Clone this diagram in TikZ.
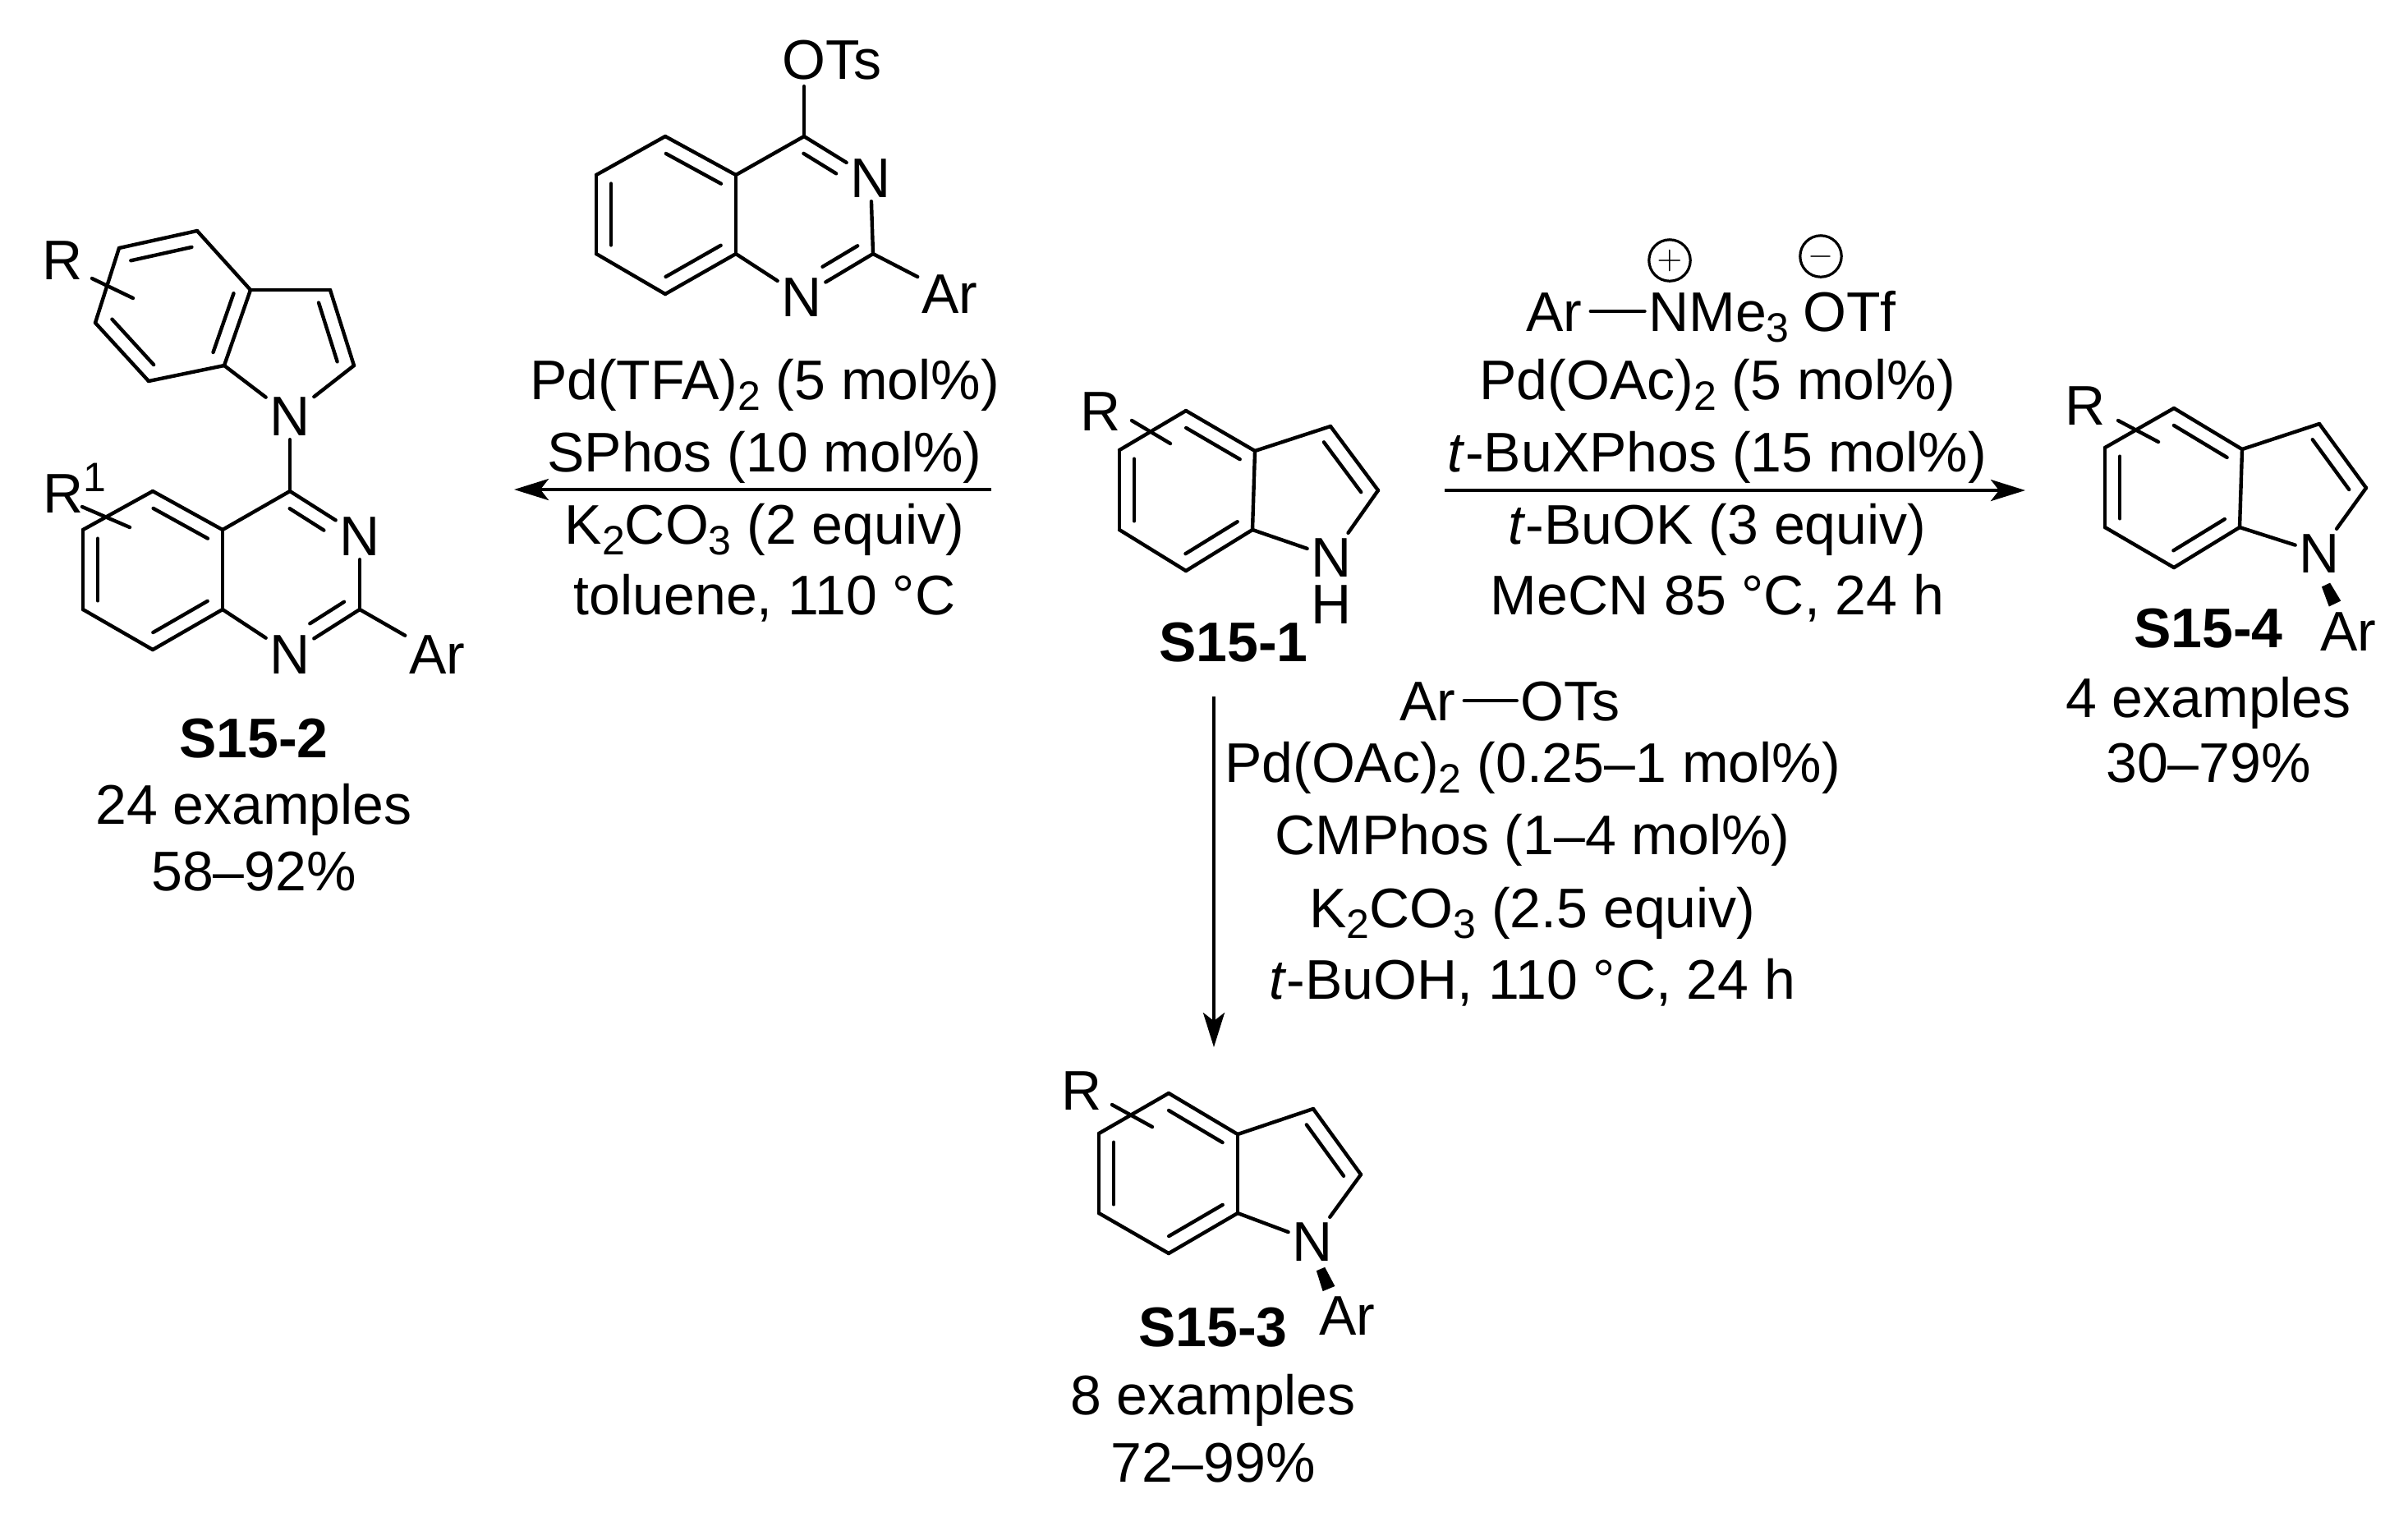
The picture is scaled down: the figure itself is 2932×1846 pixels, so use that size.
\documentclass[tikz,border=0pt]{standalone}
\usepackage{fontspec}
\setmainfont{Liberation Sans}
\usetikzlibrary{arrows.meta,calc}
\newcommand{\dbl}[4][.89]{\draw[inner] ($(#2)!.11!(#3)!4.5pt!#4:(#3)$) -- ($(#2)!#1!(#3)!4.5pt!#4:(#3)$);}
\newcommand{\wedgebond}[2]{\fill ($(#1)!1.4pt!90:(#2)$) -- ($(#1)!1.4pt!-90:(#2)$) -- ($(#2)!2pt!90:(#1)$) -- ($(#2)!2pt!-90:(#1)$) -- cycle;}
\newcommand{\subs}[1]{\raisebox{-3.3pt}{\fontsize{12.5}{12.5}\selectfont #1}}
\newcommand{\supr}[1]{\raisebox{6.5pt}{\fontsize{12.5}{12.5}\selectfont #1}}

\begin{document}
\begin{tikzpicture}[x=0.25pt,y=-0.25pt]
\tikzstyle{every node}=[font=\fontsize{17}{17}\selectfont, text height=12.2pt, text depth=0pt, inner sep=1pt]
\tikzstyle{bond}=[line width=1.1pt, line cap=round]
\tikzstyle{inner}=[line width=1.1pt, line cap=round]
\tikzstyle{connect}=[-{Stealth[length=10.5pt, width=6.5pt, inset=2.5pt]}, line width=1.1pt]
\tikzstyle{charge}=[circle, draw, line width=.8pt, minimum size=12.6pt, inner sep=0pt, text height=, text depth=, font=\normalsize]
\useasboundingbox (0,0) rectangle (2932,1846);

% tosylate on top of the left arrow
\coordinate (TopC4) at (979,166); \coordinate (TopC4a) at (896,213); \coordinate (TopC5) at (810,166);
\coordinate (TopC6) at (726,213); \coordinate (TopC7) at (726,309); \coordinate (TopC8) at (810,358);
\coordinate (TopC8a) at (896,309); \coordinate (TopC2) at (1063,309);
\node (TopN1) at (976,361) {N};
\node (TopN3) at (1060,216) {N};
\node (TopAr) at (1156,357) {Ar};
\node (TopOTs) at (1013,72) {OTs};
\path (TopC4) edge [bond] (TopC4a) (TopC4a) edge [bond] (TopC5) (TopC5) edge [bond] (TopC6)
  (TopC6) edge [bond] (TopC7) (TopC7) edge [bond] (TopC8) (TopC8) edge [bond] (TopC8a)
  (TopC8a) edge [bond] (TopC4a) (TopC8a) edge [bond] (TopN1) (TopN1) edge [bond] (TopC2)
  (TopC2) edge [bond] (TopN3) (TopN3) edge [bond] (TopC4) (TopC2) edge [bond] (TopAr);
\coordinate (TopO) at (979,105);
\draw[bond] (TopC4) -- (TopO);
\dbl{TopC4a}{TopC5}{90} \dbl{TopC6}{TopC7}{90} \dbl{TopC8}{TopC8a}{90}
\dbl[.6]{TopC4}{TopN3}{-90} \dbl[.6]{TopC2}{TopN1}{-90}

% S15-2, indole part
\coordinate (LeftC3a) at (305,353); \coordinate (LeftC4) at (240,281); \coordinate (LeftC5) at (145,302);
\coordinate (LeftC6) at (116,393); \coordinate (LeftC7) at (181,464); \coordinate (LeftC7a) at (273,445);
\coordinate (LeftC3) at (402,353); \coordinate (LeftC2) at (431,445);
\node (LeftN) at (353,506) {N};
\node (LeftR) at (76,316) {R};
\coordinate (LeftRa) at (112,339); \coordinate (LeftRb) at (162,363);
\path (LeftC3a) edge [bond] (LeftC4) (LeftC4) edge [bond] (LeftC5) (LeftC5) edge [bond] (LeftC6)
  (LeftC6) edge [bond] (LeftC7) (LeftC7) edge [bond] (LeftC7a) (LeftC7a) edge [bond] (LeftC3a)
  (LeftC3a) edge [bond] (LeftC3) (LeftC3) edge [bond] (LeftC2) (LeftC2) edge [bond] (LeftN)
  (LeftN) edge [bond] (LeftC7a) (LeftRa) edge [bond] (LeftRb);
\dbl{LeftC4}{LeftC5}{90} \dbl{LeftC6}{LeftC7}{90} \dbl{LeftC7a}{LeftC3a}{90} \dbl{LeftC2}{LeftC3}{90}

% S15-2, quinazoline part
\coordinate (LowC4) at (353,598); \coordinate (LowC4a) at (271,645); \coordinate (LowC5) at (186,598);
\coordinate (LowC6) at (101,645); \coordinate (LowC7) at (101,742); \coordinate (LowC8) at (186,791);
\coordinate (LowC8a) at (271,742); \coordinate (LowC2) at (438,742);
\node (LowN1) at (353,796) {N};
\node (LowN3) at (438,652) {N};
\node (LowAr) at (532,796) {Ar};
\node[anchor=west] (LowR) at (48,600) {R\supr{1}};
\coordinate (LowRa) at (100,617); \coordinate (LowRb) at (158,642);
\path (LeftN) edge [bond] (LowC4) (LowC4) edge [bond] (LowC4a) (LowC4a) edge [bond] (LowC5)
  (LowC5) edge [bond] (LowC6) (LowC6) edge [bond] (LowC7) (LowC7) edge [bond] (LowC8)
  (LowC8) edge [bond] (LowC8a) (LowC8a) edge [bond] (LowC4a) (LowC8a) edge [bond] (LowN1)
  (LowN1) edge [bond] (LowC2) (LowC2) edge [bond] (LowN3) (LowN3) edge [bond] (LowC4)
  (LowC2) edge [bond] (LowAr) (LowRa) edge [bond] (LowRb);
\dbl{LowC4a}{LowC5}{90} \dbl{LowC6}{LowC7}{90} \dbl{LowC8}{LowC8a}{90}
\dbl[.6]{LowC4}{LowN3}{-90} \dbl[.6]{LowC2}{LowN1}{-90}
\node (LeftName) at (309,898) {\textbf{S15-2}};
\node (LeftCount) at (309,979) {24 examples};
\node (LeftYield) at (309,1060) {58–92\%};

% S15-1
\coordinate (MidC3a) at (1528,549); \coordinate (MidC4) at (1444,500); \coordinate (MidC5) at (1363,548);
\coordinate (MidC6) at (1363,645); \coordinate (MidC7) at (1444,695); \coordinate (MidC7a) at (1525,645);
\coordinate (MidC3) at (1620,519); \coordinate (MidC2) at (1678,597);
\node (MidN) at (1621,678) {N};
\node (MidH) at (1621,735) {H};
\node (MidR) at (1340,500) {R};
\coordinate (MidRa) at (1378,512); \coordinate (MidRb) at (1425,540);
\path (MidC3a) edge [bond] (MidC4) (MidC4) edge [bond] (MidC5) (MidC5) edge [bond] (MidC6)
  (MidC6) edge [bond] (MidC7) (MidC7) edge [bond] (MidC7a) (MidC7a) edge [bond] (MidC3a)
  (MidC3a) edge [bond] (MidC3) (MidC3) edge [bond] (MidC2) (MidC2) edge [bond] (MidN)
  (MidN) edge [bond] (MidC7a) (MidRa) edge [bond] (MidRb);
\dbl{MidC3a}{MidC4}{90} \dbl{MidC5}{MidC6}{90} \dbl{MidC7}{MidC7a}{90} \dbl{MidC2}{MidC3}{90}
\node (MidName) at (1502,781) {\textbf{S15-1}};

% S15-4
\coordinate (RightC3a) at (2730,547); \coordinate (RightC4) at (2647,497); \coordinate (RightC5) at (2563,545);
\coordinate (RightC6) at (2563,642); \coordinate (RightC7) at (2647,691); \coordinate (RightC7a) at (2727,642);
\coordinate (RightC3) at (2824,516); \coordinate (RightC2) at (2881,594);
\node (RightN) at (2824,673) {N};
\node (RightR) at (2539,493) {R};
\node (RightAr) at (2859,768) {Ar};
\coordinate (RightRa) at (2579,512); \coordinate (RightRb) at (2628,538);
\coordinate (RightWa) at (2832,712); \coordinate (RightWb) at (2843,735);
\path (RightC3a) edge [bond] (RightC4) (RightC4) edge [bond] (RightC5) (RightC5) edge [bond] (RightC6)
  (RightC6) edge [bond] (RightC7) (RightC7) edge [bond] (RightC7a) (RightC7a) edge [bond] (RightC3a)
  (RightC3a) edge [bond] (RightC3) (RightC3) edge [bond] (RightC2) (RightC2) edge [bond] (RightN)
  (RightN) edge [bond] (RightC7a) (RightRa) edge [bond] (RightRb);
\dbl{RightC3a}{RightC4}{90} \dbl{RightC5}{RightC6}{90} \dbl{RightC7}{RightC7a}{90} \dbl{RightC2}{RightC3}{90}
\wedgebond{RightWa}{RightWb}
\node (RightName) at (2689,764) {\textbf{S15-4}};
\node (RightCount) at (2689,849) {4 examples};
\node (RightYield) at (2689,928) {30–79\%};

% S15-3
\coordinate (DownC3a) at (1507,1381); \coordinate (DownC4) at (1423,1331); \coordinate (DownC5) at (1338,1380);
\coordinate (DownC6) at (1338,1477); \coordinate (DownC7) at (1423,1526); \coordinate (DownC7a) at (1507,1477);
\coordinate (DownC3) at (1599,1350); \coordinate (DownC2) at (1657,1430);
\node (DownN) at (1598,1511) {N};
\node (DownR) at (1317,1327) {R};
\node (DownAr) at (1640,1601) {Ar};
\coordinate (DownRa) at (1354,1345); \coordinate (DownRb) at (1403,1372);
\coordinate (DownWa) at (1608,1545); \coordinate (DownWb) at (1618,1569);
\path (DownC3a) edge [bond] (DownC4) (DownC4) edge [bond] (DownC5) (DownC5) edge [bond] (DownC6)
  (DownC6) edge [bond] (DownC7) (DownC7) edge [bond] (DownC7a) (DownC7a) edge [bond] (DownC3a)
  (DownC3a) edge [bond] (DownC3) (DownC3) edge [bond] (DownC2) (DownC2) edge [bond] (DownN)
  (DownN) edge [bond] (DownC7a) (DownRa) edge [bond] (DownRb);
\dbl{DownC3a}{DownC4}{90} \dbl{DownC5}{DownC6}{90} \dbl{DownC7}{DownC7a}{90} \dbl{DownC2}{DownC3}{90}
\wedgebond{DownWa}{DownWb}
\node (DownName) at (1477,1615) {\textbf{S15-3}};
\node (DownCount) at (1477,1698) {8 examples};
\node (DownYield) at (1477,1780) {72–99\%};

% arrows
\coordinate (LeftArrowA) at (1207,596); \coordinate (LeftArrowB) at (626,596);
\coordinate (RightArrowA) at (1759,597); \coordinate (RightArrowB) at (2466,597);
\coordinate (DownArrowA) at (1478,848); \coordinate (DownArrowB) at (1478,1275);
\path (LeftArrowA) edge [connect] (LeftArrowB)
  (RightArrowA) edge [connect] (RightArrowB)
  (DownArrowA) edge [connect] (DownArrowB);

% conditions, left arrow
\node (LeftPd) at (931,462) {Pd(TFA)\subs{2} (5 mol\%)};
\node (LeftLig) at (931,550) {SPhos (10 mol\%)};
\node (LeftBase) at (931,638) {K\subs{2}CO\subs{3} (2 equiv)};
\node (LeftSolv) at (931,724) {toluene, 110 °C};

% conditions, right arrow
\node (SaltAr) at (1892,379) {Ar};
\node (SaltN) at (2093,379) {NMe\subs{3}};
\node (SaltOTf) at (2252,379) {OTf};
\node[charge] (SaltPlus) at (2033,317) {$+$};
\node[charge] (SaltMinus) at (2217,312) {$-$};
\path (SaltAr) edge [bond, shorten <=1.5pt] (SaltN);
\node (RightPd) at (2091,462) {Pd(OAc)\subs{2} (5 mol\%)};
\node (RightLig) at (2091,550) {\textit{t}-BuXPhos (15 mol\%)};
\node (RightBase) at (2091,638) {\textit{t}-BuOK (3 equiv)};
\node (RightSolv) at (2091,724) {MeCN 85 °C, 24 h};

% conditions, down arrow
\node (TsAr) at (1738,853) {Ar};
\node (TsOTs) at (1912,853) {OTs};
\path (TsAr) edge [bond, shorten <=1.5pt] (TsOTs);
\node (DownPd) at (1866,928) {Pd(OAc)\subs{2} (0.25–1 mol\%)};
\node (DownLig) at (1866,1016) {CMPhos (1–4 mol\%)};
\node (DownBase) at (1866,1105) {K\subs{2}CO\subs{3} (2.5 equiv)};
\node (DownSolv) at (1866,1192) {\textit{t}-BuOH, 110 °C, 24 h};
\end{tikzpicture}
\end{document}
